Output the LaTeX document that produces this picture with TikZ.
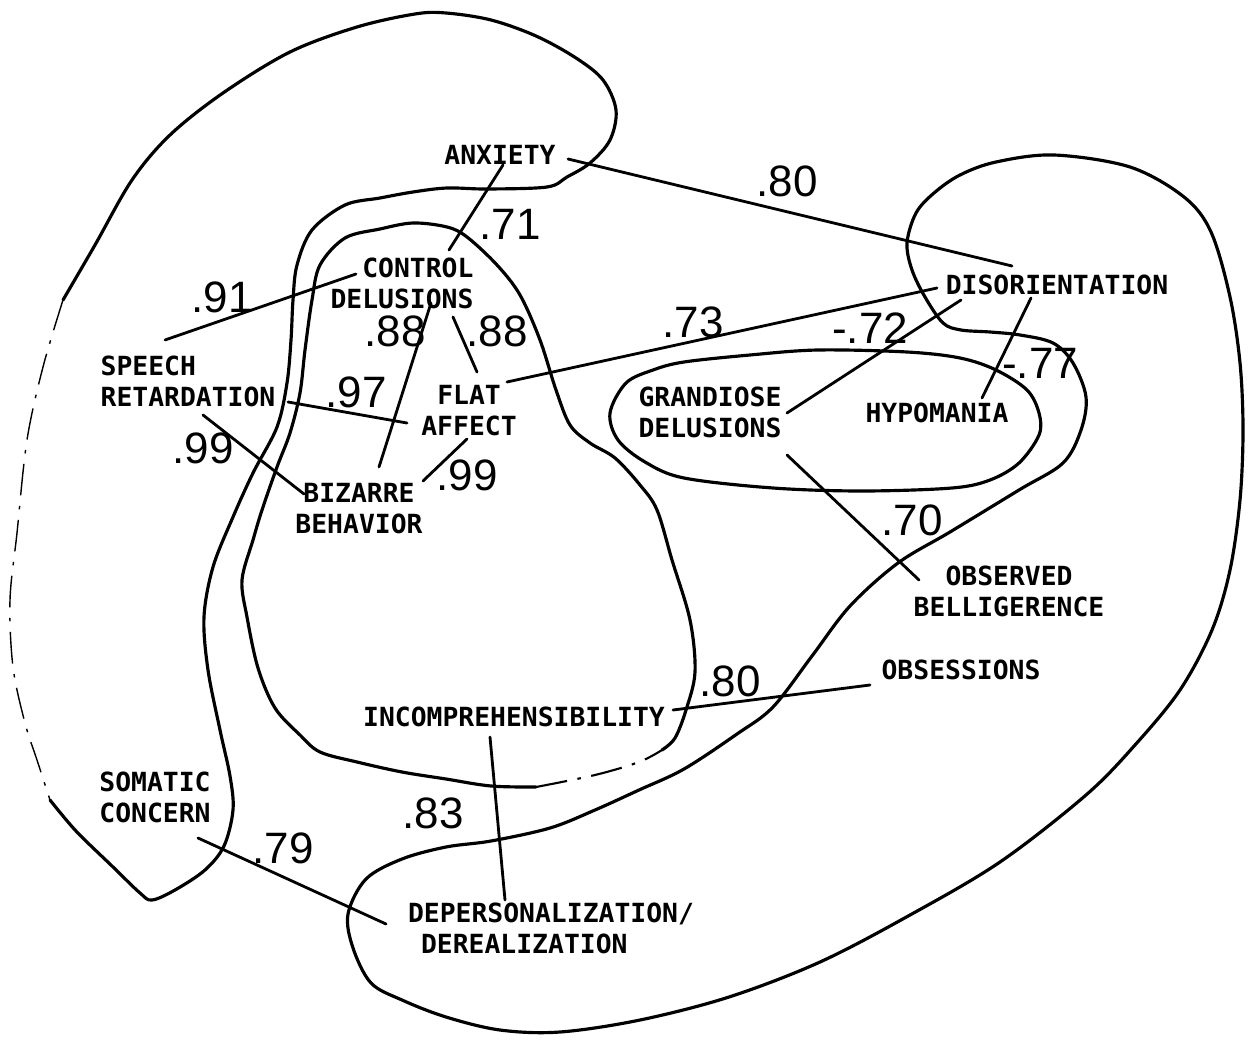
\documentclass[tikz,border=0pt]{standalone}
\usepackage{fontspec}
\setmainfont{DejaVu Sans Mono}
\newfontfamily\labelfont{DejaVu Sans Mono}
\newfontfamily\numfont{Liberation Sans}
\begin{document}
\begin{tikzpicture}[x=0.01cm,y=-0.01cm,
  contour/.style={line width=0.9pt, line join=round, line cap=round},
  faint/.style={line width=0.4pt, dash pattern=on 9pt off 3pt on 1pt off 3pt},
  link/.style={line width=0.8pt, line cap=round},
  lbl/.style={inner sep=0pt, font=\labelfont\bfseries\fontsize{7.5}{8.8}\selectfont},
  num/.style={inner sep=0pt, font=\numfont\fontsize{12.5}{13}\selectfont}]
\useasboundingbox (0,0) rectangle (1252,1040);

% ---- outer left region with the upper lobe (solid part)
\draw[contour] plot[smooth, tension=0.55] coordinates {
  (50,800) (76,831) (112,866) (140,893) (152,900) (175,890) (205,870)
  (224,846) (233,810) (230,776) (220,730) (208,670) (204,617) (213,567)
  (233,517) (253,473) (277,427) (287,383) (291,340) (293,300) (297,265)
  (312,230) (345,205) (380,198) (413,192) (447,188) (487,189) (547,187)
  (567,177) (590,163) (610,140) (616,110) (603,80) (576,58) (536,36)
  (491,20) (446,13) (415,14) (357,27) (290,52) (223,93) (170,135)
  (132,180) (95,245) (63,300)};
% ---- its faint left edge
\draw[faint] plot[smooth, tension=0.55] coordinates {
  (63,300) (43,367) (27,440) (17,533) (10,600) (13,667) (25,723) (37,760) (50,800)};

% ---- inner region
\draw[contour] plot[smooth, tension=0.55] coordinates {
  (662,750) (675,738) (686,710) (695,672) (690,620) (672,560) (657,510)
  (640,485) (615,458) (590,443) (570,425) (556,390) (540,340) (520,295)
  (497,265) (467,237) (447,227) (413,223) (380,229) (345,238) (320,265)
  (312,300) (305,350) (300,393) (290,433) (277,467) (262,510) (253,540)
  (242,580) (247,617) (258,668) (275,708) (300,735) (320,752) (357,762)
  (402,772) (446,779) (491,786) (536,787)};
\draw[faint, line width=0.6pt] plot[smooth, tension=0.55] coordinates {
  (536,787) (595,775) (639,762) (662,750)};

% ---- right region with the lower lobe
\draw[contour] plot[smooth cycle, tension=0.55] coordinates {
  (907,243) (916,213) (934,193) (960,175) (996,162) (1054,155) (1130,167)
  (1184,197) (1211,232) (1230,297) (1240,363) (1243,430) (1240,500)
  (1230,570) (1212,630) (1180,690) (1135,745) (1086,795) (1000,862)
  (910,915) (820,962) (729,997) (640,1020) (560,1032) (500,1030)
  (446,1017) (402,1000) (371,983) (353,948) (348,914) (366,879) (402,859)
  (446,847) (491,841) (550,828) (595,810) (639,790) (684,769) (737,734)
  (773,707) (812,656) (850,606) (898,563) (950,532) (1019,490)
  (1063,463) (1081,430) (1086,397) (1073,363) (1053,343)
  (1020,335) (990,332) (961,330) (943,323) (925,297) (912,270)};

% ---- oval round the grandiose delusions and hypomania
\draw[contour] plot[smooth cycle, tension=0.55] coordinates {
  (610,413) (626,383) (653,370) (684,362) (750,355) (818,350) (907,352)
  (960,358) (996,370) (1027,390) (1039,413) (1039,435) (1019,463)
  (990,480) (952,488) (862,491) (773,488) (684,478) (645,462) (618,440)};

% ---- symptom labels
\node[lbl] (anx) at (500,155) {ANXIETY};
\node[lbl, align=right] (ctrl) at (402,283) {CONTROL\\DELUSIONS};
\node[lbl, align=left] (speech) at (188,381) {SPEECH\\RETARDATION};
\node[lbl, align=center] (flat) at (469,411) {FLAT\\AFFECT};
\node[lbl, align=center] (biz) at (359,509) {BIZARRE\\BEHAVIOR};
\node[lbl] (disor) at (1057,285) {DISORIENTATION};
\node[lbl, align=left] (grand) at (710,412) {GRANDIOSE\\DELUSIONS};
\node[lbl] (hypo) at (937,413) {HYPOMANIA};
\node[lbl, align=center] (obs) at (1009,591) {OBSERVED\\BELLIGERENCE};
\node[lbl] (obsess) at (961,670) {OBSESSIONS};
\node[lbl] (incomp) at (514,717) {INCOMPREHENSIBILITY};
\node[lbl, align=left] (som) at (155,797) {SOMATIC\\CONCERN};
\node[lbl, align=left] (dep) at (551,928) {DEPERSONALIZATION/\\\hspace*{0.13cm}DEREALIZATION};

% ---- correlation links
\draw[link] ([shift={(3,10)}]anx.center) -- ([shift={(47,-33)}]ctrl.center);
\draw[link] ([shift={(68,4)}]anx.center) -- ([shift={(-45,-19)}]disor.center);
\draw[link] ([shift={(-46,-9)}]ctrl.center) -- ([shift={(-23,-41)}]speech.center);
\draw[link] ([shift={(29,20)}]ctrl.center) -- ([shift={(20,-42)}]biz.center);
\draw[link] ([shift={(51,34)}]ctrl.center) -- ([shift={(8,-39)}]flat.center);
\draw[link] ([shift={(38,-29)}]flat.center) -- ([shift={(-120,3)}]disor.center);
\draw[link] ([shift={(100,21)}]speech.center) -- ([shift={(-62,12)}]flat.center);
\draw[link] ([shift={(-2,28)}]flat.center) -- ([shift={(64,-28)}]biz.center);
\draw[link] ([shift={(15,34)}]speech.center) -- ([shift={(-55,-15)}]biz.center);
\draw[link] ([shift={(-96,15)}]disor.center) -- ([shift={(77,1)}]grand.center);
\draw[link] ([shift={(-26,13)}]disor.center) -- ([shift={(45,-15)}]hypo.center);
\draw[link] ([shift={(77,43)}]grand.center) -- ([shift={(-90,-11)}]obs.center);
\draw[link] ([shift={(159,-7)}]incomp.center) -- ([shift={(-91,15)}]obsess.center);
\draw[link] ([shift={(-24,20)}]incomp.center) -- ([shift={(-46,-28)}]dep.center);
\draw[link] ([shift={(43,41)}]som.center) -- ([shift={(-165,-4)}]dep.center);

% ---- correlation values
\node[num] (v1) at (787,181) {.80};
\node[num] (v2) at (510,224) {.71};
\node[num] (v3) at (222,297) {.91};
\node[num] (v4) at (693,322) {.73};
\node[num] (v5) at (870,328) {-.72};
\node[num] (v6) at (395,331) {.88};
\node[num] (v7) at (497,331) {.88};
\node[num] (v8) at (1040,363) {-.77};
\node[num] (v9) at (356,392) {.97};
\node[num] (v10) at (203,448) {.99};
\node[num] (v11) at (467,475) {.99};
\node[num] (v12) at (912,520) {.70};
\node[num] (v13) at (730,681) {.80};
\node[num] (v14) at (433,813) {.83};
\node[num] (v15) at (283,848) {.79};
\end{tikzpicture}
\end{document}
